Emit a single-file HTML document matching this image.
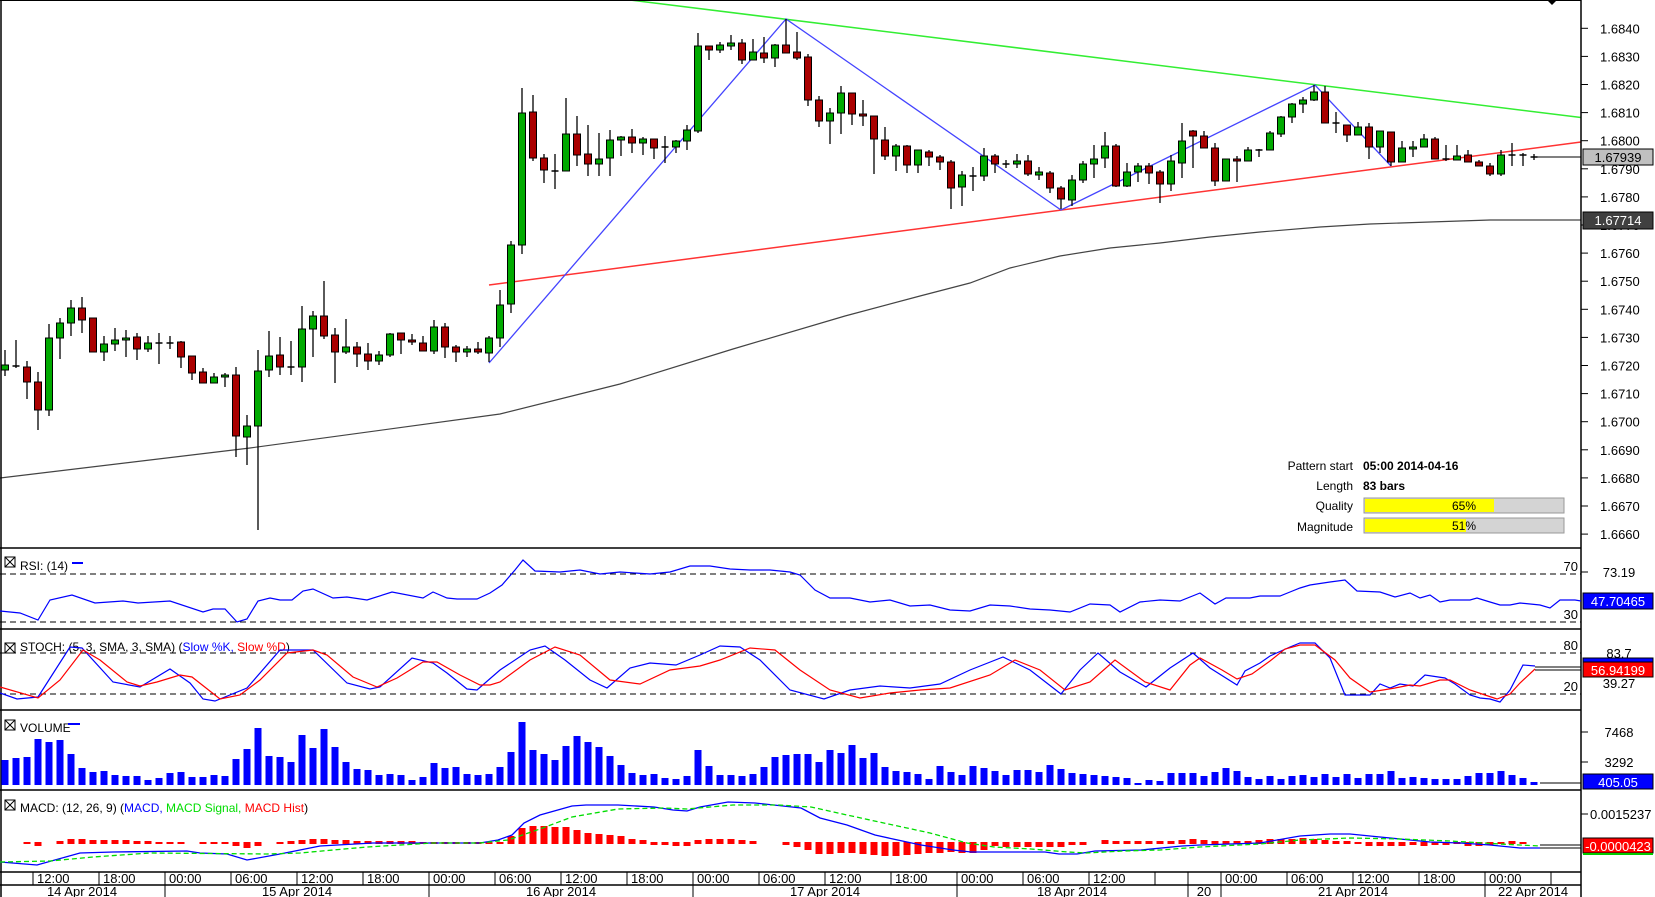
<!DOCTYPE html>
<html><head><meta charset="utf-8"><style>
html,body{margin:0;padding:0;background:#fff;}
svg{display:block;font-family:"Liberation Sans",Arial,sans-serif;}
</style></head><body>
<svg id="s" width="1655" height="897" viewBox="0 0 1655 897" xmlns="http://www.w3.org/2000/svg"></svg>
<script>
var S=document.getElementById('s');var out=[];
function L(x1,y1,x2,y2,c,w,d){out.push('<line x1="'+x1+'" y1="'+y1+'" x2="'+x2+'" y2="'+y2+'" stroke="'+c+'" stroke-width="'+(w||1)+'"'+(d?' stroke-dasharray="'+d+'"':'')+'/>');}
function R(x,y,w,h,f,st){out.push('<rect x="'+x+'" y="'+y+'" width="'+w+'" height="'+h+'" fill="'+f+'"'+(st?' stroke="'+st+'" stroke-width="1"':'')+'/>');}
function T(x,y,t,o){o=o||{};out.push('<text x="'+x+'" y="'+y+'" font-size="'+(o.s||13)+'" fill="'+(o.c||'#000')+'"'+(o.a?' text-anchor="'+o.a+'"':'')+(o.b?' font-weight="bold"':'')+'>'+t+'</text>');}
function P(pts,c,w,d){out.push('<polyline fill="none" stroke="'+c+'" stroke-width="'+(w||1)+'"'+(d?' stroke-dasharray="'+d+'"':'')+' points="'+pts.map(function(p){return p[0]+','+p[1];}).join(' ')+'"/>');}
function X(i){return 5+i*11;}
R(0,0,1655,897,'#fff');
var B=[[370,365,350,376],[366,366,340,368],[367,382,361,399],[382,410,372,430],[410,338,324,416],[338,323,318,359],[323,308,300,336],[308,320,297,333],[318,352,318,352],[352,344,336,361],[344,340,328,351],[340,338,330,357],[337,349,333,360],[349,343,336,352],[343,343,333,364],[343,343,336,349],[342,357,341,368],[356,373,356,380],[372,383,368,383],[383,377,373,383],[377,375,373,387],[375,436,367,457],[437,426,415,465],[426,371,350,530],[370,356,331,377],[355,367,337,375],[367,367,341,375],[367,329,306,382],[329,316,311,357],[316,336,281,339],[335,352,328,383],[352,347,319,354],[347,354,342,367],[354,361,343,370],[361,355,351,365],[355,334,333,357],[333,340,333,354],[340,342,334,345],[343,351,336,351],[351,327,320,354],[327,347,323,358],[347,352,345,362],[352,349,346,357],[349,352,342,354],[353,338,336,362],[338,305,290,347],[304,245,241,313],[245,113,88,254],[112,158,95,161],[158,170,154,183],[171,171,154,189],[171,134,98,171],[134,155,116,166],[154,164,125,176],[164,159,133,176],[158,140,130,176],[140,137,136,156],[137,143,129,153],[143,139,137,155],[139,148,139,159],[147,147,136,163],[147,141,140,153],[141,130,125,150],[131,46,33,133],[46,50,46,60],[50,45,42,53],[46,43,35,50],[43,60,39,64],[60,52,39,60],[53,58,37,63],[58,45,44,67],[45,53,19,53],[52,58,32,60],[57,100,54,106],[100,121,96,127],[121,113,108,144],[113,93,86,134],[93,114,93,125],[114,116,100,126],[116,139,116,174],[140,156,127,160],[156,146,144,171],[146,165,145,173],[165,150,150,173],[152,157,150,166],[157,162,155,170],[162,188,160,209],[187,175,171,206],[176,176,167,191],[176,156,148,181],[156,164,154,173],[164,164,160,168],[164,161,154,168],[161,174,155,176],[175,172,167,180],[173,188,171,193],[188,199,186,209],[200,180,175,206],[180,164,161,183],[164,159,145,178],[158,146,132,168],[146,186,144,187],[186,172,163,187],[172,166,163,182],[166,173,163,184],[172,184,170,203],[184,161,155,191],[163,141,123,178],[131,136,130,168],[136,148,131,148],[148,181,143,186],[181,159,159,181],[159,161,156,182],[161,150,147,161],[150,150,149,157],[150,133,131,150],[134,117,116,137],[117,104,103,123],[104,100,97,113],[100,92,85,101],[92,123,86,123],[123,123,112,133],[125,135,125,142],[135,127,122,135],[127,147,123,159],[147,131,131,153],[132,162,132,166],[162,148,141,162],[149,147,141,157],[147,139,134,147],[139,159,137,159],[159,159,145,161],[160,156,145,160],[155,162,150,162],[162,166,160,166],[166,174,163,176],[174,155,150,176],[155,155,143,166],[155,155,153,166],[157,157,154,160]];
P([[0,478],[250,448],[500,414],[620,384],[733,349],[845,316],[920,296],[970,283],[1010,268],[1060,256],[1110,248],[1160,243],[1210,237],[1260,232],[1320,227],[1370,224],[1430,222],[1490,220],[1581,220]],'#444',1.2);
L(630,0,1581,117.5,'#33ee33',1.5);
L(489,285,1581,142,'#ff3333',1.5);
P([[489,363],[786,19],[1061,210],[1315,85],[1391,166]],'#4444ff',1.3);
B.forEach(function(b,i){var x=X(i);L(x,b[2],x,b[3],'#000',1.3);
 if(b[0]==b[1]){L(x-3.5,b[0],x+3.5,b[0],'#000',1.5);}
 else{var t=Math.min(b[0],b[1]),h=Math.abs(b[0]-b[1]);R(x-3.5,t,7,h,b[1]<b[0]?'#00aa00':'#aa0000','#000');}
});
L(1534,157,1581,157,'#000',1);
out.push('<polygon points="1547,0 1557,0 1552,5" fill="#000"/>');
T(1353,470,'Pattern start',{s:12,a:'end'});T(1363,470,'05:00 2014-04-16',{s:12,b:1});
T(1353,490,'Length',{s:12,a:'end'});T(1363,490,'83 bars',{s:12,b:1});
T(1353,510,'Quality',{s:12,a:'end'});T(1353,531,'Magnitude',{s:12,a:'end'});
R(1364,498,200,15,'#d4d4d4','#999');R(1365,499,129,13,'#ffff00');T(1464,510,'65%',{s:12,a:'middle'});
R(1364,518,200,15,'#d4d4d4','#999');R(1365,519,101,13,'#ffff00');T(1464,530,'51%',{s:12,a:'middle'});
var labs=['1.6840','1.6830','1.6820','1.6810','1.6800','1.6790','1.6780','1.6770','1.6760','1.6750','1.6740','1.6730','1.6720','1.6710','1.6700','1.6690','1.6680','1.6670','1.6660'];
labs.forEach(function(l,k){var y=28.3+k*28.1;L(1581,y,1588,y,'#000');T(1600,y+5,l);});
R(1583,149,70,16,'#c0c0c0','#000');T(1618,162,'1.67939',{a:'middle'});
R(1583,212,70,17,'#404040','#000');T(1618,225,'1.67714',{a:'middle',c:'#fff'});
[548,629,710,790,872,885].forEach(function(y){L(0,y,1581,y,'#000',1.5);});
L(1,0,1,897,'#000',1.5);L(0,0.5,1581,0.5,'#000',1);L(1581,0,1581,897,'#000',1.5);
function box(y){R(5,y,10,10,'#fff','#000');L(5,y,15,y+10,'#000');L(15,y,5,y+10,'#000');}
box(557);T(20,570,'RSI: (14)',{s:12});L(72,563,83,563,'#0000ff',2);
L(0,574,1581,574,'#000',1,'6,4');L(0,622,1581,622,'#000',1,'6,4');
T(1578,571,'70',{a:'end'});T(1578,619,'30',{a:'end'});
P([[0,611],[20,613],[38,620],[50,600],[72,595],[95,603],[123,601],[138,603],[170,601],[203,612],[213,609],[225,609],[237,622],[247,619],[258,601],[270,598],[280,600],[292,600],[303,591],[313,589],[333,598],[347,597],[367,600],[392,592],[423,598],[433,592],[447,598],[457,599],[477,599],[490,593],[502,585],[515,570],[523,560],[535,571],[560,572],[580,570],[600,574],[620,572],[650,574],[670,572],[690,566],[710,566],[730,569],[750,570],[770,570],[790,572],[800,575],[815,590],[830,598],[850,598],[870,602],[890,600],[910,606],[930,605],[950,610],[970,611],[990,605],[1010,606],[1030,609],[1050,610],[1070,612],[1090,604],[1110,605],[1120,612],[1140,602],[1160,600],[1180,601],[1200,593],[1215,604],[1226,598],[1250,598],[1260,596],[1280,596],[1290,592],[1300,588],[1310,585],[1330,582],[1345,580],[1357,591],[1380,592],[1395,597],[1410,593],[1420,598],[1430,595],[1440,602],[1450,600],[1470,600],[1477,598],[1490,602],[1500,605],[1510,605],[1520,603],[1540,605],[1550,608],[1560,600],[1575,600],[1581,601]],'#0000ff',1.2);
T(1619,577,'73.19',{a:'middle'});R(1583,593,70,16,'#0000ff','#000');T(1618,606,'47.70465',{a:'middle',c:'#fff'});L(1581,572,1588,572,'#000');
box(643);out.push('<text x="20" y="651" font-size="12">STOCH: (5, 3, SMA, 3, SMA) (<tspan fill="#0000ff">Slow %K, </tspan><tspan fill="#ff0000">Slow %D</tspan>)</text>');
L(0,653,1581,653,'#000',1,'6,4');L(0,694,1581,694,'#000',1,'6,4');
T(1578,650,'80',{a:'end'});T(1578,691,'20',{a:'end'});
P([[0,693],[17,699],[38,697],[70,647],[82,648],[113,682],[140,687],[170,669],[190,683],[203,699],[215,701],[247,688],[280,650],[313,650],[347,683],[370,689],[380,687],[412,658],[433,663],[447,673],[467,689],[477,690],[500,670],[530,650],[545,646],[565,660],[590,680],[607,688],[630,668],[650,663],[676,665],[700,655],[720,646],[740,647],[760,660],[790,690],[824,699],[850,690],[880,686],[910,688],[940,684],[970,670],[1003,657],[1030,670],[1061,694],[1080,670],[1098,653],[1120,672],[1146,687],[1170,668],[1193,653],[1210,668],[1237,685],[1245,671],[1260,663],[1270,656],[1290,647],[1300,643],[1315,643],[1330,658],[1345,695],[1370,695],[1380,684],[1390,688],[1400,684],[1413,686],[1425,675],[1445,678],[1455,684],[1470,695],[1480,698],[1490,699],[1500,702],[1510,690],[1523,665],[1535,666]],'#0000ff',1.2);
P([[0,687],[38,698],[60,680],[83,650],[100,660],[127,682],[140,686],[157,682],[180,675],[192,677],[220,699],[240,695],[260,680],[287,653],[313,650],[327,655],[353,677],[377,687],[397,678],[423,662],[437,662],[460,675],[480,685],[490,685],[500,682],[530,660],[555,647],[580,655],[610,680],[640,684],[670,670],[700,666],[720,660],[750,648],[775,650],[800,670],[830,690],[860,698],[890,693],[920,690],[950,688],[990,675],[1015,660],[1040,670],[1065,690],[1090,682],[1115,660],[1145,682],[1170,690],[1190,665],[1200,658],[1222,670],[1237,679],[1252,674],[1270,661],[1285,649],[1300,645],[1315,645],[1335,660],[1350,678],[1370,692],[1383,690],[1395,688],[1410,685],[1420,686],[1440,680],[1450,680],[1470,690],[1485,695],[1497,699],[1510,694],[1520,683],[1535,669]],'#ff0000',1.2);
L(1535,667,1581,667,'#000');L(1535,670,1581,670,'#000');
T(1619,658,'83.7',{a:'middle'});T(1619,688,'39.27',{a:'middle'});
R(1583,658,70,4,'#0000ff','#000');R(1583,662,70,15,'#ff0000','#000');T(1618,675,'56.94199',{a:'middle',c:'#fff'});
box(720);T(20,732,'VOLUME',{s:12});L(68,724,80,724,'#0000ff',2);
var V=[25,27,28,46,43,45,31,17,13,14,10,9,9,5,7,12,13,8,8,10,9,26,36,57,29,28,23,50,37,56,38,23,16,15,10,11,10,5,8,22,17,18,11,10,11,18,33,63,35,31,25,39,49,43,38,29,20,12,10,11,7,6,9,35,19,10,10,9,11,18,28,30,31,31,23,35,32,40,27,32,18,14,13,11,6,19,13,10,19,17,14,10,15,15,13,20,16,12,11,10,9,8,7,2,5,4,12,12,12,9,13,17,14,8,6,9,6,9,10,8,11,8,11,7,11,11,14,7,8,7,6,6,6,9,12,12,14,10,7,3];
V.forEach(function(h,i){R(X(i)-3.5,785-h,7,h,'#0000ff');});
L(1540,783,1581,783,'#000');
T(1619,737,'7468',{a:'middle'});T(1619,767,'3292',{a:'middle'});L(1581,732,1588,732,'#000');L(1581,762,1588,762,'#000');
R(1583,774,70,15,'#0000ff','#000');T(1618,787,'405.05',{a:'middle',c:'#fff'});
box(800);out.push('<text x="20" y="812" font-size="12">MACD: (12, 26, 9) (<tspan fill="#0000ff">MACD, </tspan><tspan fill="#00dd00">MACD Signal, </tspan><tspan fill="#ff0000">MACD Hist</tspan>)</text>');
var H=[null,null,0,-2,null,1,3,3,2,2,2,2,1,1,0,0,0,null,0,0,0,-2,-4,-2,null,0,1,2,3,3,2,2,1,1,1,1,1,1,0,0,0,0,0,0,0,0,6,14,16,16,15,15,12,9,8,7,6,3,2,-1,-1,-2,-2,2,3,3,3,2,1,null,null,-1,-3,-6,-10,-10,-9,-9,-10,-11,-12,-12,-11,-10,-9,-9,-8,-9,-9,-6,-2,-3,-3,-3,-3,-3,-3,-1,-1,null,2,1,1,1,1,1,1,2,3,2,1,1,1,1,2,3,3,3,4,3,2,1,1,0,-2,-2,-2,-2,-1,-2,-1,-1,0,-2,-2,-1,0,1,0];
H.forEach(function(h,i){if(h===null)return;var y0=843,y1=843-h;var t=Math.min(y0,y1)-1,b=Math.max(y0,y1)+1;R(X(i)-3.5,t,7,b-t,'#ff0000');});
P([[0,862],[37,865],[80,853],[113,852],[187,851],[200,853],[227,854],[247,860],[280,854],[320,846],[373,843],[480,843],[498,840],[512,835],[524,823],[540,815],[572,806],[586,805],[618,805],[654,807],[673,810],[687,811],[700,807],[728,802],[755,803],[783,806],[801,808],[820,818],[847,825],[875,835],[893,839],[921,845],[953,850],[971,852],[1045,852],[1059,854],[1077,854],[1095,851],[1141,850],[1182,846],[1200,845],[1260,843],[1300,836],[1330,834],[1350,834],[1380,837],[1400,839],[1430,842],[1460,843],[1490,845],[1520,848],[1540,848]],'#0000ff',1.3);
P([[0,862],[50,861],[93,857],[150,853],[267,854],[300,853],[333,850],[367,847],[433,843],[480,843],[508,840],[540,829],[572,817],[618,809],[664,808],[687,809],[733,805],[778,805],[811,807],[847,815],[893,825],[930,833],[967,843],[994,847],[1031,849],[1068,852],[1086,853],[1123,851],[1160,850],[1200,847],[1260,844],[1300,840],[1350,838],[1400,839],[1450,841],[1500,844],[1540,846]],'#00dd00',1.3,'5,3');
L(1540,845,1581,845,'#000');L(1540,848,1581,848,'#000');
T(1590,819,'0.0015237');L(1581,814,1588,814,'#000');
R(1583,838,70,15,'#ff0000','#000');L(1583,854,1653,854,'#00cc00',2);T(1618,851,'-0.0000423',{a:'middle',c:'#fff'});
var ticks=[[33,'12:00'],[99,'18:00'],[165,'00:00'],[231,'06:00'],[297,'12:00'],[363,'18:00'],[429,'00:00'],[495,'06:00'],[561,'12:00'],[627,'18:00'],[693,'00:00'],[759,'06:00'],[825,'12:00'],[891,'18:00'],[957,'00:00'],[1023,'06:00'],[1089,'12:00'],[1155,''],[1188,''],[1221,'00:00'],[1287,'06:00'],[1353,'12:00'],[1419,'18:00'],[1485,'00:00'],[1551,'']];
ticks.forEach(function(t){L(t[0],872,t[0],885,'#000');if(t[1])T(t[0]+4,883,t[1]);});
[165,429,693,957,1188,1221,1485].forEach(function(x){L(x,885,x,897,'#000');});
[[82,'14 Apr 2014'],[297,'15 Apr 2014'],[561,'16 Apr 2014'],[825,'17 Apr 2014'],[1072,'18 Apr 2014'],[1204,'20'],[1353,'21 Apr 2014'],[1533,'22 Apr 2014']].forEach(function(d){T(d[0],896,d[1],{a:'middle'});});
S.innerHTML=out.join('');
</script>
</body></html>
